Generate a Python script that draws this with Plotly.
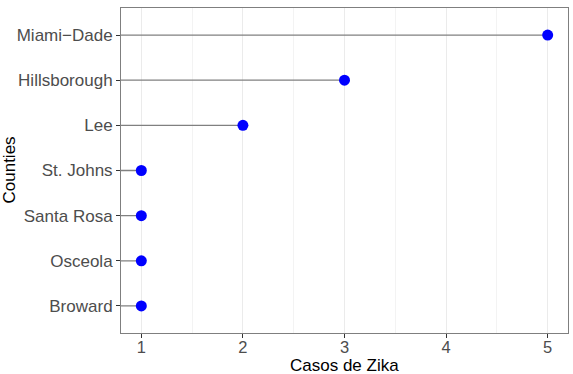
import plotly.graph_objects as go

counties = ["Broward", "Osceola", "Santa Rosa", "St. Johns", "Lee", "Hillsborough", "Miami\u2212Dade"]
cases = [1, 1, 1, 1, 2, 3, 5]
x_ticks = [1, 2, 3, 4, 5]

fig = go.Figure()
ypos = list(range(1, len(counties) + 1))
for y, c in zip(ypos, cases):
    fig.add_trace(go.Scatter(x=[0, c], y=[y, y], mode="lines",
                             line=dict(color="#808080", width=1.3),
                             hoverinfo="skip", showlegend=False))
fig.add_trace(go.Scatter(x=cases, y=ypos, mode="markers",
                         marker=dict(color="#0000FF", size=11),
                         showlegend=False, cliponaxis=False))

W, H = 573, 374
L, R, T, B = 121, 5, 8, 41
pw, ph = W - L - R, H - T - B

fig.update_layout(
    width=W, height=H,
    margin=dict(l=L, r=R, t=T, b=B),
    plot_bgcolor="white", paper_bgcolor="white",
    font=dict(family="Liberation Sans, Arial, sans-serif"),
    xaxis=dict(range=[0.8, 5.2], tickvals=x_ticks, ticktext=[str(v) for v in x_ticks],
               showgrid=True, gridcolor="#EBEBEB", gridwidth=1,
               minor=dict(tickvals=[1.5, 2.5, 3.5, 4.5], showgrid=True, gridcolor="#F3F3F3", gridwidth=0.5),
               ticks="outside", ticklen=4, tickcolor="#333333",
               ticklabelstandoff=-5,
               tickfont=dict(size=16.5, color="#4D4D4D"),
               automargin=False,
               showline=True, linecolor="#7F7F7F", linewidth=1, mirror=True, zeroline=False),
    yaxis=dict(range=[0.4, 7.6], tickvals=ypos, ticktext=counties,
               showgrid=False,
               ticks="outside", ticklen=4, tickcolor="#333333",
               tickfont=dict(size=17, color="#4D4D4D"),
               automargin=False,
               showline=True, linecolor="#7F7F7F", linewidth=1, mirror=True, zeroline=False),
    annotations=[
        dict(text="Casos de Zika", xref="paper", yref="paper", x=0.5, y=-(365 - (T + ph)) / ph,
             xanchor="center", yanchor="middle", showarrow=False,
             font=dict(size=17, color="black")),
        dict(text="Counties", xref="paper", yref="paper", x=(9 - L) / pw, y=0.5,
             xanchor="center", yanchor="middle", textangle=-90, showarrow=False,
             font=dict(size=17, color="black")),
    ],
)

fig.write_html("out.html")
